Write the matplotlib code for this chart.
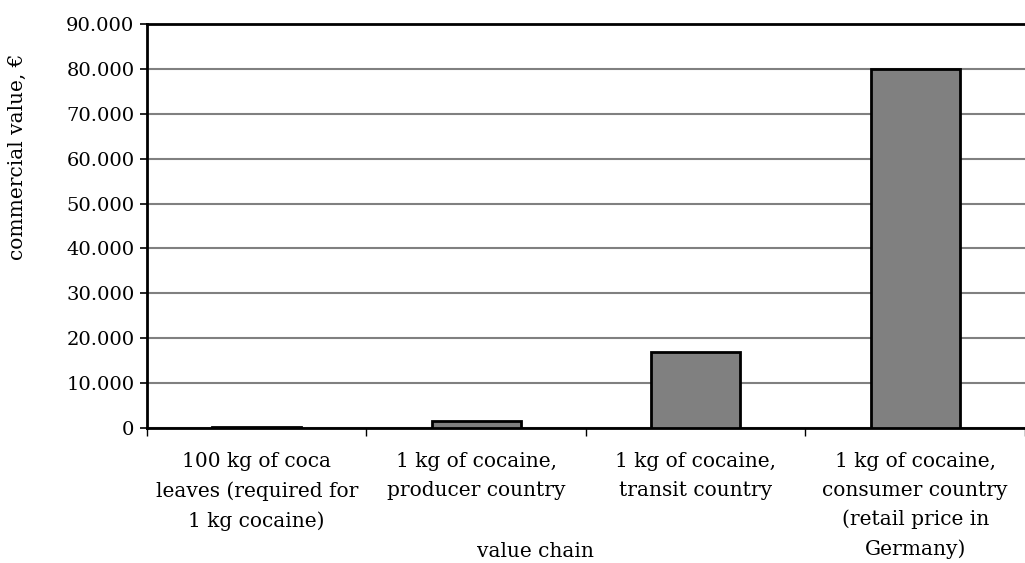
import numpy as np
import matplotlib
matplotlib.use("Agg")
import matplotlib.pyplot as plt
from matplotlib.ticker import FuncFormatter

plt.rcParams['font.family'] = ['DejaVu Serif']

categories = ['100 kg of coca\nleaves (required for\n1 kg cocaine)',
              '1 kg of cocaine,\nproducer country',
              '1 kg of cocaine,\ntransit country',
              '1 kg of cocaine,\nconsumer country\n(retail price in\nGermany)']
values = [200, 1500, 17000, 80000]
yticks = np.arange(0, 90001, 10000)

fig = plt.figure(figsize=(10.25, 5.63), dpi=100)
ax = fig.add_axes([0.1434, 0.2398, 0.8566, 0.7176])

x = np.arange(len(categories))
ax.bar(x, values, width=0.405, color='#808080', edgecolor='black', linewidth=2, zorder=3)

ax.set_xlim(-0.5, 3.5)
ax.set_ylim(0, 90000)
ax.set_yticks(yticks)
ax.yaxis.set_major_formatter(FuncFormatter(lambda v, p: f'{int(v):,}'.replace(',', '.')))
ax.grid(axis='y', color='#808080', linewidth=1.5, zorder=0)

ax.set_xticks(x)
ax.set_xticklabels(categories, linespacing=1.66)
ax.set_xticks(np.arange(-0.5, 4, 1.0), minor=True)
ax.tick_params(axis='x', which='major', length=0, pad=17, labelsize=14.5)
ax.tick_params(axis='x', which='minor', length=6, width=1, direction='out')
ax.tick_params(axis='y', length=5, width=1.2, pad=4, labelsize=14)

for s in ['left', 'bottom', 'top']:
    ax.spines[s].set_linewidth(2)
ax.spines['right'].set_visible(False)

ax.set_ylabel('commercial value, €', fontsize=14.5)
ax.yaxis.set_label_coords(-0.137, 0.67)
ax.set_xlabel('value chain', fontsize=14.5)
ax.xaxis.set_label_coords(0.442, -0.283)

fig.savefig('out.png', dpi=100)
